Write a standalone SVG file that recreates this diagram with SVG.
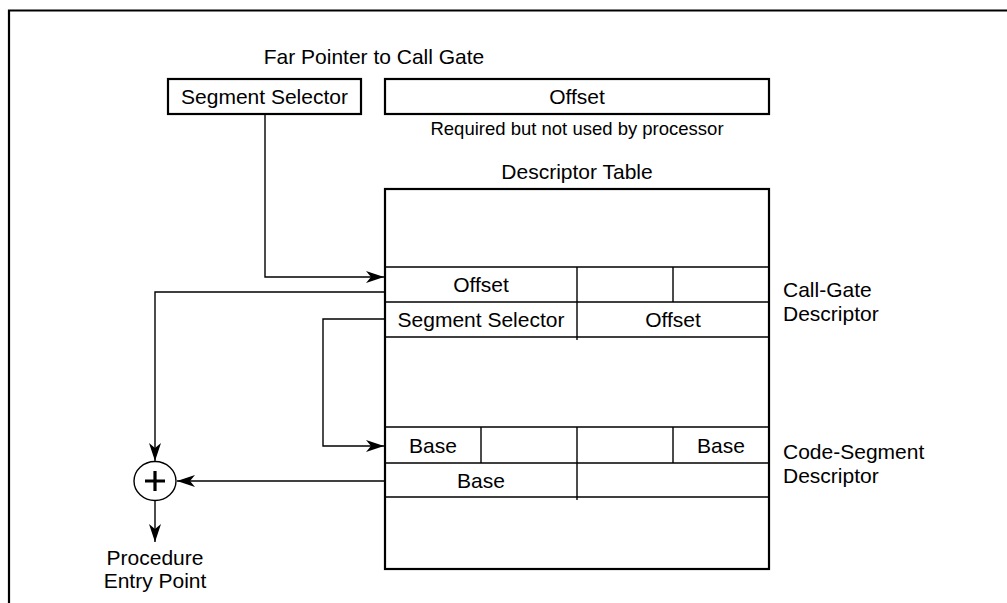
<svg xmlns="http://www.w3.org/2000/svg" width="1007" height="603" viewBox="0 0 1007 603">
<style>
text{font-family:"Liberation Sans",Arial,sans-serif;font-size:21px;fill:#000}
.c{text-anchor:middle}
.s{font-size:18.5px}
.box{fill:#fff;stroke:#000;stroke-width:2.2}
.ln{fill:none;stroke:#000;stroke-width:1.4}
.conn{fill:none;stroke:#000;stroke-width:1.4}
</style>
<defs>
<marker id="ah" viewBox="0 0 18 12" refX="18" refY="6" markerWidth="18" markerHeight="12" markerUnits="userSpaceOnUse" orient="auto">
<path d="M0,0 L18,6 L0,12 L5,6 z" fill="#000"/>
</marker>
</defs>
<rect width="1007" height="603" fill="#fff"/>
<path d="M9,603 V10.5 H1007" fill="none" stroke="#000" stroke-width="2.2"/>
<text class="c" x="374" y="64">Far Pointer to Call Gate</text>
<g id="ptr-selector">
<rect class="box" x="168" y="79" width="193" height="35"/>
<text class="c" x="264.5" y="104">Segment Selector</text>
</g>
<g id="ptr-offset">
<rect class="box" x="385" y="79" width="384" height="35"/>
<text class="c" x="577" y="104">Offset</text>
<text class="c s" x="577" y="135">Required but not used by processor</text>
</g>
<g id="descriptor-table">
<text class="c" x="577" y="179">Descriptor Table</text>
<rect class="box" x="385" y="189" width="384" height="380"/>
</g>
<g id="call-gate">
<path class="ln" d="M385,267 H769 M385,302 H769 M385,337 H769 M577,267 V340 M673,267 V302"/>
<text class="c" x="481" y="292">Offset</text>
<text class="c" x="481" y="327">Segment Selector</text>
<text class="c" x="673" y="327">Offset</text>
<text x="783" y="297">Call-Gate</text>
<text x="783" y="321">Descriptor</text>
</g>
<g id="code-segment">
<path class="ln" d="M385,427 H769 M385,463 H769 M385,497 H769 M481,427 V463 M577,427 V500 M673,427 V463"/>
<text class="c" x="433" y="453">Base</text>
<text class="c" x="721" y="453">Base</text>
<text class="c" x="481" y="488">Base</text>
<text x="783" y="459">Code-Segment</text>
<text x="783" y="483">Descriptor</text>
</g>
<g id="adder">
<ellipse cx="155" cy="481" rx="21" ry="19.5" fill="#fff" stroke="#000" stroke-width="1.4"/>
<path d="M155,471 V491 M145,481 H165" stroke="#000" stroke-width="3.2" fill="none"/>
</g>
<g id="entry-point">
<text class="c" x="155" y="565">Procedure</text>
<text class="c" x="155" y="588">Entry Point</text>
</g>
<g id="connectors">
<path class="conn" d="M265,114 V277 H384" marker-end="url(#ah)"/>
<path class="conn" d="M384,292 H155 V461" marker-end="url(#ah)"/>
<path class="conn" d="M384,319 H323 V446 H384" marker-end="url(#ah)"/>
<path class="conn" d="M384,481 H177" marker-end="url(#ah)"/>
<path class="conn" d="M155,500.5 V542" marker-end="url(#ah)"/>
</g>
</svg>
